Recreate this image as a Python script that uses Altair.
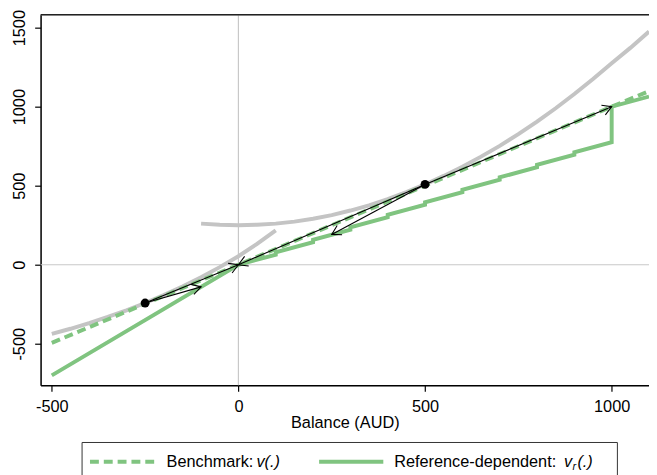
import math
import altair as alt
import pandas as pd

# ---------------- data ----------------
# grey curve on the left (through the dot at -250)
left_x = [-500, -450, -400, -350, -300, -250, -200, -150, -100, -50, 0, 50, 100]
left_y = [-437, -405, -369, -330, -288, -242, -192, -138, -79, -15, 54, 132, 218]

# grey curve in the middle/right (through the dot at 500)
mid_x = [-100, -50, 0, 50, 100, 150, 200, 250, 300, 350, 400, 450, 500,
         550, 600, 650, 700, 750, 800, 850, 900, 950, 1000, 1050, 1100]
mid_y = [260, 253, 250, 253, 260, 273, 291, 314, 343, 376, 415, 459, 508,
         562, 620, 684, 752, 826, 905, 990, 1080, 1175, 1275, 1372, 1475]

# Benchmark v(.)
bench_x = [-500, 0, 500, 1000, 1100]
bench_y = [-494, 0, 500, 1000, 1098]

# Reference-dependent v_r(.)
ref_x = [-500, 0, 100, 100, 200, 200, 300, 300, 400, 400, 500, 500, 600, 600,
         700, 700, 800, 800, 900, 900, 1000, 1000, 1100]
ref_y = [-700, 0, 64, 79, 143, 158, 222, 237, 301, 316, 380, 395, 459, 474,
         538, 553, 617, 632, 696, 711, 775, 1000, 1064]

# black arrows: start -> end
arrow_x1 = [-250, -250, 500, 500, 500]
arrow_y1 = [-242, -242, 508, 508, 508]
arrow_x2 = [0, -100, 0, 250, 1000]
arrow_y2 = [0, -140, 0, 192, 1000]

# dots
dot_x = [-250, 500]
dot_y = [-242, 508]

x_ticks = [-500, 0, 500, 1000]
y_ticks = [-500, 0, 500, 1000, 1500]

# ---------------- layout / style ----------------
X_MIN, X_MAX = -530, 1100
Y_MIN, Y_MAX = -762, 1581
W, H = 616, 375
GREEN = "#80c480"
GRAY = "#c4c4c4"
FONT = "Liberation Sans"
FS = 16.5

sx = W / (X_MAX - X_MIN)
sy = H / (Y_MAX - Y_MIN)

xscale = alt.Scale(domain=[X_MIN, X_MAX], nice=False, zero=False)
yscale = alt.Scale(domain=[Y_MIN, Y_MAX], nice=False, zero=False)

LABEL_EXPR = "'' + datum.value"

xaxis = alt.Axis(values=x_ticks, grid=False, tickSize=6, labelPadding=8,
                 labelExpr=LABEL_EXPR,
                 labelFontSize=FS, labelFont=FONT, labelColor="#000",
                 domainColor="#000", domainWidth=1.5, tickColor="#000", tickWidth=1.2,
                 titleFont=FONT, titleFontSize=FS, titleFontWeight="normal",
                 titleColor="#000", titleBaseline="middle", titleY=38,
                 labelFlush=False, labelOverlap=False)
yaxis = alt.Axis(values=y_ticks, grid=False, tickSize=6, labelPadding=10,
                 labelExpr=LABEL_EXPR,
                 labelAngle=-90, labelAlign="center", labelBaseline="alphabetic",
                 labelFontSize=FS, labelFont=FONT, labelColor="#000",
                 domainColor="#000", domainWidth=1.5, tickColor="#000", tickWidth=1.2,
                 labelFlush=False, labelOverlap=False, title=None)

XE = alt.X("x:Q", scale=xscale, axis=xaxis, title="Balance (AUD)")
YE = alt.Y("y:Q", scale=yscale, axis=yaxis, title=None)

# ---------------- frames ----------------
gray_rows = []
for i, (a, b) in enumerate(zip(left_x, left_y)):
    gray_rows.append({"x": a, "y": b, "c": "left", "i": i})
for i, (a, b) in enumerate(zip(mid_x, mid_y)):
    gray_rows.append({"x": a, "y": b, "c": "mid", "i": i})
gray_df = pd.DataFrame(gray_rows)

bench_df = pd.DataFrame({"x": bench_x, "y": bench_y, "i": range(len(bench_x))})
ref_df = pd.DataFrame({"x": ref_x, "y": ref_y, "i": range(len(ref_x))})

seg_rows, head_rows = [], []
for k, (a1, b1, a2, b2) in enumerate(zip(arrow_x1, arrow_y1, arrow_x2, arrow_y2)):
    seg_rows.append({"x": a1, "y": b1, "s": k, "i": 0})
    seg_rows.append({"x": a2, "y": b2, "s": k, "i": 1})
    ang = math.degrees(math.atan2(-(b2 - b1) * sy, (a2 - a1) * sx)) % 360
    head_rows.append({"x": a2, "y": b2, "ang": ang})
seg_df = pd.DataFrame(seg_rows)
head_df = pd.DataFrame(head_rows)
dot_df = pd.DataFrame({"x": dot_x, "y": dot_y})

zero_df = pd.DataFrame({"x": [0], "y": [0]})
one = pd.DataFrame({"t": [0]})

# ---------------- layers ----------------
vline = alt.Chart(zero_df).mark_rule(color="#c8c8c8", strokeWidth=1.2).encode(x=XE)
hline = alt.Chart(zero_df).mark_rule(color="#c8c8c8", strokeWidth=1.2).encode(y=YE)

gray = alt.Chart(gray_df).mark_line(color=GRAY, strokeWidth=4, clip=True).encode(
    x=XE, y=YE, detail="c:N", order="i:Q")

bench = alt.Chart(bench_df).mark_line(color=GREEN, strokeWidth=4, strokeDash=[9, 5],
                                      clip=True).encode(x=XE, y=YE, order="i:Q")
ref = alt.Chart(ref_df).mark_line(color=GREEN, strokeWidth=4, clip=True,
                                  strokeJoin="miter").encode(x=XE, y=YE, order="i:Q")

segs = alt.Chart(seg_df).mark_line(color="#000", strokeWidth=1.1, clip=True).encode(
    x=XE, y=YE, detail="s:N", order="i:Q")

heads = alt.Chart(head_df).mark_point(shape="M -1 -0.58 L 0 0 L -1 0.58", filled=False,
                                      stroke="#000", strokeWidth=1.1, size=330,
                                      opacity=1).encode(
    x=XE, y=YE, angle=alt.Angle("ang:Q", scale=None))

dots = alt.Chart(dot_df).mark_circle(color="#000", size=80, opacity=1).encode(x=XE, y=YE)

top_border = alt.Chart(one).mark_rule(color="#222", strokeWidth=1.5).encode(
    x=alt.value(0), x2=alt.value(W), y=alt.value(0))

# legend (drawn below the plot)
LY = 452.5
leg_box = alt.Chart(one).mark_rect(fill="white", stroke="#333", strokeWidth=1).encode(
    x=alt.value(42), x2=alt.value(584), y=alt.value(433), y2=alt.value(490))
leg_dash = alt.Chart(one).mark_rule(color=GREEN, strokeWidth=4, strokeDash=[9, 5]).encode(
    x=alt.value(50), x2=alt.value(116), y=alt.value(LY))
leg_solid = alt.Chart(one).mark_rule(color=GREEN, strokeWidth=4).encode(
    x=alt.value(282), x2=alt.value(347), y=alt.value(LY))


def txt(s, x, y, italic=False, size=FS):
    return alt.Chart(one).mark_text(text=s, font=FONT, fontSize=size, align="left",
                                    baseline="middle", color="#000",
                                    fontStyle="italic" if italic else "normal").encode(
        x=alt.value(x), y=alt.value(y))


legend = [leg_box, leg_dash, leg_solid,
          txt("Benchmark:", 127.5, LY),
          txt("v(.)", 218.5, LY, italic=True),
          txt("Reference-dependent:", 358, LY),
          txt("v", 530, LY, italic=True),
          txt("r", 538.5, LY + 5, italic=True, size=11),
          txt("(.)", 543.5, LY, italic=True)]

chart = alt.layer(vline, hline, gray, bench, ref, segs, heads, dots, top_border,
                  *legend).properties(
    width=W, height=H,
    autosize=alt.AutoSizeParams(type="none"),
    padding={"left": 33, "top": 4, "right": 0, "bottom": 88},
).configure_view(stroke=None).configure(background="white")

chart.save("out.html", embed_options={"renderer": "svg", "actions": False})
